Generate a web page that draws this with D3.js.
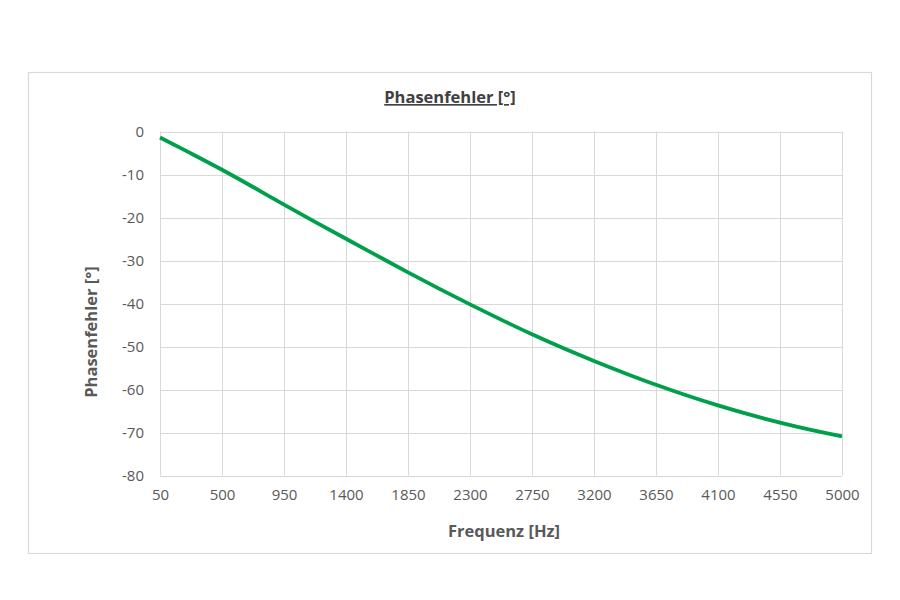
<!DOCTYPE html>
<html>
<head>
<meta charset="utf-8">
<script src="https://cdn.jsdelivr.net/npm/d3@7"></script>
<style>
  html, body { margin: 0; padding: 0; background: #ffffff; }
  svg { display: block; font-family: "Open Sans", "DejaVu Sans", sans-serif; }
</style>
</head>
<body>
<svg id="chart" width="900" height="600"></svg>
<script>
// ---- data ----
const frequencies = [50, 275, 500, 725, 950, 1175, 1400, 1625, 1850, 2075, 2300, 2525,
                     2750, 2975, 3200, 3425, 3650, 3875, 4100, 4325, 4550, 4775, 5000];
const phaseError = [-1.4, -5.1, -8.9, -12.9, -17.0, -21.0, -24.95, -28.85, -32.75, -36.55, -40.2, -43.75,
                    -47.15, -50.35, -53.35, -56.2, -58.9, -61.4, -63.7, -65.8, -67.7, -69.4, -70.9];
const xTicks = [50, 500, 950, 1400, 1850, 2300, 2750, 3200, 3650, 4100, 4550, 5000];
const yTicks = [0, -10, -20, -30, -40, -50, -60, -70, -80];
const title = "Phasenfehler [°]";
const xTitle = "Frequenz [Hz]";
const yTitle = "Phasenfehler [°]";

// ---- layout ----
const svg = d3.select("#chart");
const plot = { left: 160, right: 842, top: 131.5, bottom: 475.5 };
const textColor = "#595959";
const gridColor = "#d9d9d9";

svg.append("rect").attr("x", 28.5).attr("y", 72.5).attr("width", 843).attr("height", 481)
  .attr("fill", "#fff").attr("stroke", gridColor).attr("stroke-width", 1.2);

const x = d3.scaleLinear().domain([50, 5000]).range([plot.left, plot.right]);
const y = d3.scaleLinear().domain([-80, 0]).range([plot.bottom, plot.top]);

// gridlines
svg.append("g").selectAll("line.h").data(yTicks).join("line")
  .attr("x1", plot.left).attr("x2", plot.right)
  .attr("y1", d => Math.round(y(d)) + 0.5).attr("y2", d => Math.round(y(d)) + 0.5)
  .attr("stroke", gridColor).attr("stroke-width", 1);
svg.append("g").selectAll("line.v").data(xTicks).join("line")
  .attr("y1", plot.top).attr("y2", plot.bottom)
  .attr("x1", d => Math.round(x(d)) + 0.5).attr("x2", d => Math.round(x(d)) + 0.5)
  .attr("stroke", gridColor).attr("stroke-width", 1);

// axes (labels only)
const fmt = d => String(d);
const yAxis = svg.append("g").attr("transform", `translate(${plot.left},0)`)
  .call(d3.axisLeft(y).tickValues(yTicks).tickSize(0).tickPadding(16).tickFormat(fmt));
const xAxis = svg.append("g").attr("transform", `translate(0,${plot.bottom})`)
  .call(d3.axisBottom(x).tickValues(xTicks).tickSize(0).tickPadding(14).tickFormat(fmt));
[yAxis, xAxis].forEach(a => {
  a.select(".domain").remove();
  a.selectAll("text").attr("fill", textColor).style("font-size", "15px")
    .style("font-family", "'Open Sans', sans-serif");
});
yAxis.selectAll("text").attr("dy", "0.35em");

// line
const line = d3.line().x((d, i) => x(frequencies[i])).y(d => y(d)).curve(d3.curveMonotoneX);
svg.append("path").datum(phaseError)
  .attr("d", line).attr("fill", "none")
  .attr("stroke", "#00a04b").attr("stroke-width", 3.8)
  .attr("stroke-linejoin", "round").attr("stroke-linecap", "butt");

// titles
svg.append("text").attr("x", 450).attr("y", 103).attr("text-anchor", "middle")
  .attr("fill", "#404040").style("font-size", "16.5px").style("font-weight", "bold")
  .style("text-decoration", "underline").text(title);
svg.append("text").attr("x", (plot.left + plot.right) / 2 + 3).attr("y", 537).attr("text-anchor", "middle")
  .attr("fill", textColor).style("font-size", "16.5px").style("font-weight", "bold").text(xTitle);
svg.append("text").attr("transform", "translate(97,332) rotate(-90)").attr("text-anchor", "middle")
  .attr("fill", textColor).style("font-size", "16.5px").style("font-weight", "bold").text(yTitle);
</script>
</body>
</html>
